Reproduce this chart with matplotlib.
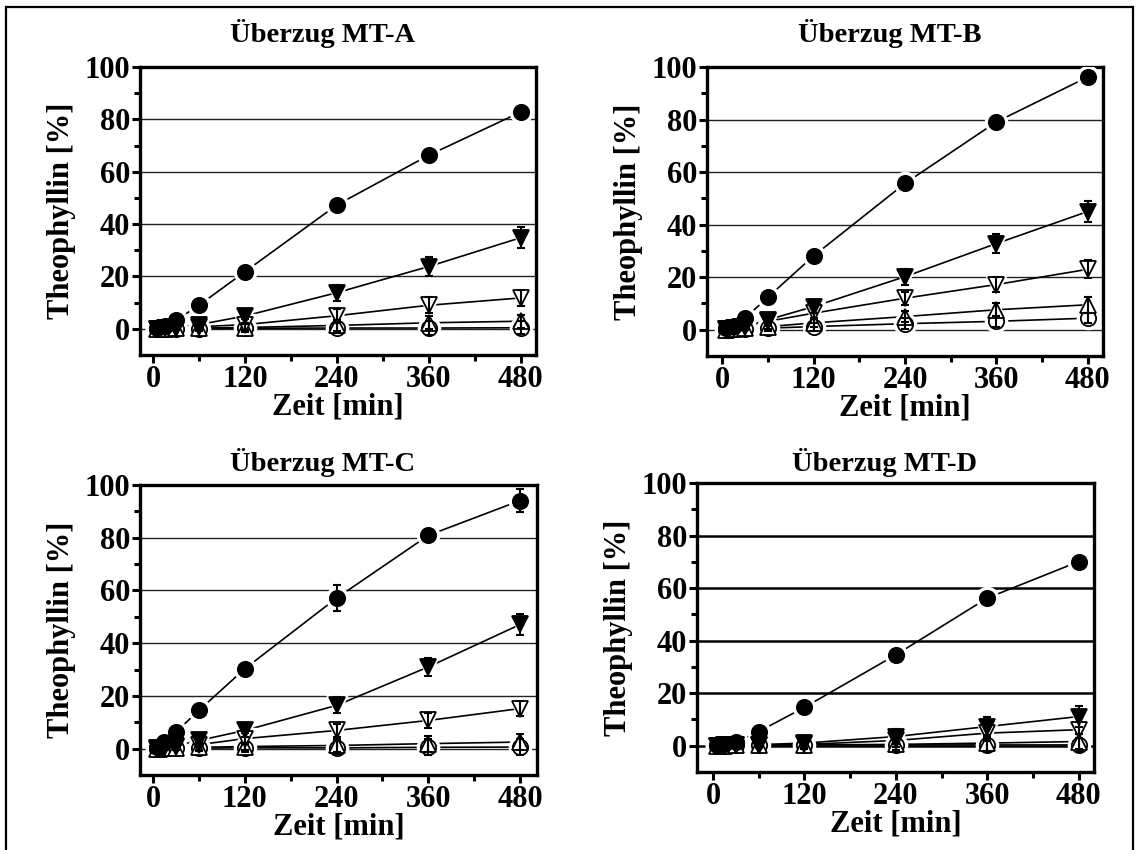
import matplotlib
matplotlib.use("Agg")
import matplotlib.pyplot as plt
from matplotlib.patches import Rectangle
import numpy as np

# ---------------- data ----------------
time_min = [5, 15, 30, 60, 120, 240, 360, 480]
x_ticks = [0, 120, 240, 360, 480]
y_ticks = [0, 20, 40, 60, 80, 100]
titles = ["Überzug MT-A", "Überzug MT-B", "Überzug MT-C", "Überzug MT-D"]

# series order: filled circle, filled down-triangle, open down-triangle, open up-triangle, open circle
a_fc = [0.5, 1.0, 3.3, 9.0, 21.8, 47.3, 66.3, 82.8]
a_fv = [0.0, 0.3, 0.5, 1.6, 4.9, 13.8, 23.8, 34.8]
a_ov = [0.0, 0.2, 0.4, 0.8, 1.6, 5.0, 9.0, 11.8]
a_ou = [0.0, 0.1, 0.2, 0.3, 0.5, 1.3, 2.3, 2.9]
a_oc = [0.0, 0.0, 0.1, 0.1, 0.2, 0.3, 0.3, 0.4]

b_fc = [0.5, 1.5, 4.4, 12.4, 28.1, 55.7, 79.1, 96.2]
b_fv = [0.2, 0.5, 1.0, 3.8, 8.8, 20.2, 32.8, 45.0]
b_ov = [0.1, 0.5, 1.5, 3.2, 6.3, 12.0, 17.2, 23.0]
b_ou = [0.0, 0.3, 0.6, 1.2, 2.6, 5.0, 7.6, 9.5]
b_oc = [0.0, 0.2, 0.4, 0.6, 1.2, 2.3, 3.2, 4.4]

c_fc = [0.5, 2.5, 6.3, 14.5, 30.3, 57.1, 80.9, 94.1]
c_fv = [0.1, 0.4, 1.0, 3.1, 6.9, 16.4, 31.0, 47.1]
c_ov = [0.0, 0.3, 0.6, 1.5, 3.8, 6.9, 10.7, 15.2]
c_ou = [0.0, 0.1, 0.2, 0.5, 0.8, 1.2, 1.9, 2.5]
c_oc = [0.0, 0.0, 0.1, 0.2, 0.3, 0.3, 0.5, 0.6]

d_fc = [0.3, 0.8, 1.6, 5.4, 14.6, 34.6, 56.2, 70.1]
d_fv = [0.0, 0.1, 0.2, 0.4, 1.0, 3.5, 7.3, 11.1]
d_ov = [0.0, 0.1, 0.1, 0.3, 0.5, 2.0, 4.8, 6.1]
d_ou = [0.0, 0.0, 0.1, 0.2, 0.3, 0.5, 1.0, 1.6]
d_oc = [0.0, 0.0, 0.1, 0.1, 0.2, 0.3, 0.3, 0.3]

# standard deviations (estimated)
a_err = [[0.3, 0.3, 0.4, 0.6, 0.8, 1.0, 1.0, 1.0],
         [0.5, 0.5, 0.5, 1.5, 2.5, 3.0, 3.5, 4.0],
         [0.5, 0.5, 0.5, 1.0, 2.0, 2.5, 3.0, 3.0],
         [0.5, 0.5, 0.5, 0.8, 1.2, 2.0, 2.5, 2.5],
         [0.5, 0.5, 0.5, 0.8, 1.5, 2.0, 2.5, 2.5]]
b_err = [[0.3, 0.3, 0.4, 0.6, 0.8, 1.0, 1.0, 1.0],
         [0.5, 0.5, 0.8, 1.5, 2.5, 3.0, 3.5, 4.0],
         [0.5, 0.5, 0.8, 1.5, 2.0, 2.5, 3.0, 3.5],
         [0.5, 0.5, 0.5, 1.0, 1.5, 2.0, 2.5, 3.0],
         [0.5, 0.5, 0.5, 1.0, 1.5, 2.0, 2.0, 2.0]]
c_err = [[0.3, 0.5, 0.5, 0.8, 1.0, 5.0, 1.0, 4.5],
         [0.5, 0.5, 0.8, 1.5, 2.5, 3.0, 3.5, 4.0],
         [0.5, 0.5, 0.5, 1.0, 2.0, 2.5, 3.0, 3.0],
         [0.5, 0.5, 0.5, 1.0, 1.5, 2.5, 3.0, 3.0],
         [0.5, 0.5, 0.5, 1.0, 1.5, 2.5, 3.0, 3.0]]
d_err = [[0.3, 0.3, 0.4, 0.6, 0.8, 1.0, 1.0, 1.0],
         [0.5, 0.5, 0.5, 1.0, 2.0, 3.0, 3.5, 4.0],
         [0.5, 0.5, 0.5, 1.0, 1.5, 2.5, 3.0, 3.0],
         [0.5, 0.5, 0.5, 1.0, 1.5, 2.5, 3.0, 3.0],
         [0.5, 0.5, 0.5, 1.0, 1.5, 2.0, 2.5, 2.5]]

panels = [
    [a_fc, a_fv, a_ov, a_ou, a_oc],
    [b_fc, b_fv, b_ov, b_ou, b_oc],
    [c_fc, c_fv, c_ov, c_ou, c_oc],
    [d_fc, d_fv, d_ov, d_ou, d_oc],
]
errors = [a_err, b_err, c_err, d_err]

# ---------------- style ----------------
plt.rcParams['font.family'] = ['Liberation Serif', 'DejaVu Serif']
plt.rcParams['font.weight'] = 'bold'

W, H = 1139, 850
fig = plt.figure(figsize=(W / 100, H / 100), dpi=100)

def fr(left, top, right, bottom):
    return [left / W, 1 - bottom / H, (right - left) / W, (bottom - top) / H]

axes_px = [(140, 67, 536, 355), (707, 67, 1103, 356),
           (140, 485, 537, 775), (697, 483, 1094, 772)]
xlims = [(-17, 500), (-20, 500), (-17, 502), (-21, 500)]
title_xy = [(323, 33), (890, 33), (323, 462), (885, 462)]
ylabel_x = [76, 643, 76, 633]

styles = [
    dict(marker='o', mfc='black', ms=11),
    dict(marker='v', mfc='black', ms=11),
    dict(marker='v', mfc='white', ms=11),
    dict(marker='^', mfc='white', ms=11),
    dict(marker='o', mfc='white', ms=11),
]

FS = 22
TFS = 20.5
for i, (pos, series, errs) in enumerate(zip(axes_px, panels, errors)):
    ax = fig.add_axes(fr(*pos))
    grid_lw = 1.8 if i == 3 else 1.0
    grid_col = 'black' if i == 3 else '#222222'
    for yv in [0, 20, 40, 60, 80]:
        ax.axhline(yv, color=grid_col, lw=grid_lw, zorder=1)
    # lines
    for s in series:
        ax.plot(time_min, s, color='black', lw=1.2, zorder=2)
    # white halos (gap around markers)
    for s, st in zip(series, styles):
        ax.plot(time_min, s, ls='none', marker=st['marker'], ms=st['ms'] + 5,
                mfc='white', mec='white', zorder=3)
    # markers (open ones first, filled ones on top)
    for k in range(len(series) - 1, -1, -1):
        st = styles[k]
        ax.plot(time_min, series[k], ls='none', marker=st['marker'], ms=st['ms'],
                mfc=st['mfc'], mec='black', mew=1.3, zorder=4)
    # error bars
    for s, e in zip(series, errs):
        ax.errorbar(time_min, s, yerr=e, fmt='none', ecolor='black',
                    elinewidth=1.5, capsize=3, capthick=1.5, zorder=5)

    ax.set_xlim(*xlims[i])
    ax.set_ylim(-10, 100)
    ax.set_xticks(x_ticks)
    ax.set_xticks([60, 180, 300, 420], minor=True)
    ax.set_yticks(y_ticks)
    ax.set_yticks([10, 30, 50, 70, 90], minor=True)
    ax.tick_params(axis='both', which='major', direction='out', length=6, width=2.2,
                   labelsize=FS, pad=1)
    ax.tick_params(axis='both', which='minor', direction='out', length=4, width=2.2)
    for lab in ax.get_xticklabels() + ax.get_yticklabels():
        lab.set_fontweight('bold')
    for sp in ax.spines.values():
        sp.set_linewidth(2.4)
    ax.set_xlabel('Zeit [min]', fontsize=FS, fontweight='bold', labelpad=-1)
    ax.set_ylabel('Theophyllin [%]', fontsize=FS, fontweight='bold')
    ax.yaxis.set_label_coords((ylabel_x[i] - pos[0]) / (pos[2] - pos[0]), 0.5)
    tx, ty = title_xy[i]
    fig.text(tx / W, 1 - ty / H, titles[i], ha='center', va='center',
             fontsize=TFS, fontweight='bold')

# figure frame (bottom edge lies at the image border)
fig.patches.append(Rectangle((6 / W, -2 / H), 1127 / W, 845 / H, transform=fig.transFigure,
                             fill=False, edgecolor='black', lw=1.6))

fig.savefig('out.png', dpi=100)
